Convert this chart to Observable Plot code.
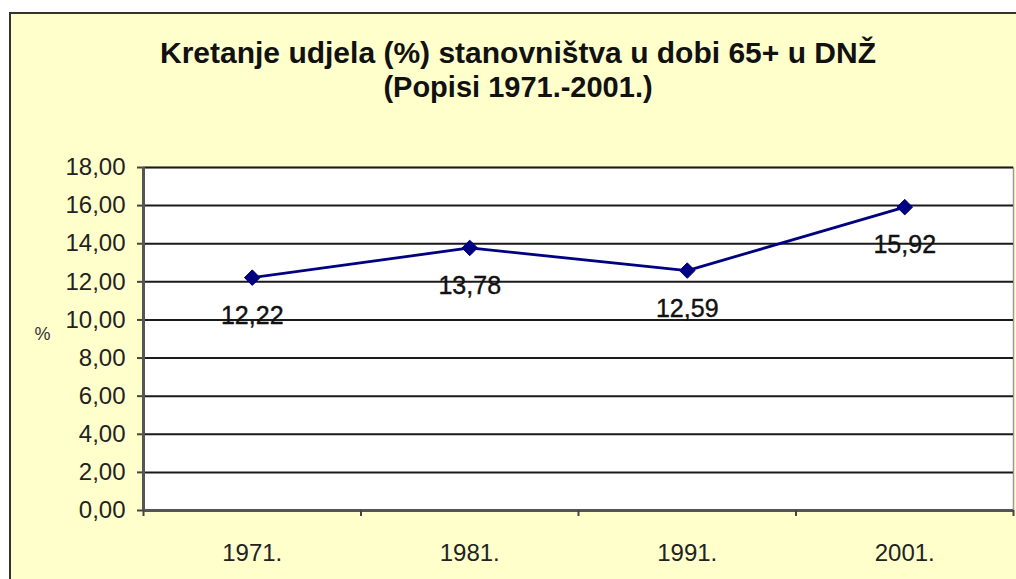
<!DOCTYPE html>
<html>
<head>
<meta charset="utf-8">
<script src="https://cdn.jsdelivr.net/npm/d3@7"></script>
<script src="https://cdn.jsdelivr.net/npm/@observablehq/plot@0.6"></script>
<style>
  html, body { margin: 0; padding: 0; background: #ffffff; }
  #wrap { position: relative; width: 1016px; height: 579px; overflow: hidden; font-family: "Liberation Sans", Arial, sans-serif; }
  #panel { position: absolute; left: 9px; top: 12px; width: 1020px; height: 600px; background: #FFFFCC; border: 2px solid #333; box-sizing: border-box; }
  #title { position: absolute; left: 0; width: 1036px; top: 35px; text-align: center; font-weight: bold; color: #111; }
  #title .l1 { font-size: 30px; line-height: 35px; }
  #title .l2 { font-size: 29px; line-height: 35px; }
  #chart { position: absolute; left: 0; top: 0; }
  #chart svg { background: transparent !important; }
</style>
</head>
<body>
<div id="wrap">
  <div id="panel"></div>
  <div id="title"><div class="l1">Kretanje udjela (%) stanovništva u dobi 65+ u DNŽ</div><div class="l2">(Popisi 1971.-2001.)</div></div>
  <div id="chart"></div>
</div>
<script>
const years = ["1971.", "1981.", "1991.", "2001."];
const shares = [12.22, 13.78, 12.59, 15.92];
const yTicks = [0, 2, 4, 6, 8, 10, 12, 14, 16, 18];
const yLabel = "%";

const data = years.map((yr, i) => ({ pos: i + 0.5, year: yr, value: shares[i] }));
const fmt = d => d.toFixed(2).replace(".", ",");

const chart = Plot.plot({
  width: 1016,
  height: 579,
  marginLeft: 143,
  marginTop: 167,
  marginRight: 3,
  marginBottom: 69,
  style: { background: "transparent", fontFamily: "'Liberation Sans', Arial, sans-serif", color: "#222" },
  x: { type: "linear", domain: [0, years.length] },
  y: { domain: [0, 18] },
  marks: [
    Plot.frame({ fill: "white", stroke: "#999", strokeWidth: 1.5 }),
    Plot.gridY(yTicks, { stroke: "#1a1a1a", strokeOpacity: 1, strokeWidth: 2 }),
    Plot.axisY(yTicks, { tickFormat: fmt, tickSize: 6, tickPadding: 12, fontSize: 24, label: null, stroke: "#444", strokeWidth: 2, fill: "#222" }),
    Plot.ruleX([0], { stroke: "#555", strokeWidth: 3 }),
    Plot.ruleY([0], { stroke: "#555", strokeWidth: 3 }),
    Plot.axisX(d3.range(years.length + 1), { tickFormat: () => "", tickSize: 6, label: null, stroke: "#444", strokeWidth: 2 }),
    Plot.axisX(data.map(d => d.pos), { tickFormat: (d, i) => years[i], tickSize: 0, tickPadding: 33, fontSize: 24, label: null, fill: "#222" }),
    Plot.text([yLabel], { frameAnchor: "left", dx: -109, dy: -5, text: d => d, fontSize: 18, fill: "#333" }),
    Plot.line(data, { x: "pos", y: "value", stroke: "#000080", strokeWidth: 2.8 }),
    Plot.dot(data, { x: "pos", y: "value", symbol: "diamond2", r: 7, fill: "#000080", stroke: "#000080", strokeWidth: 1 }),
    Plot.text(data, { x: "pos", y: "value", text: d => fmt(d.value), dy: 38, fontSize: 25, fill: "#111", stroke: "#111", strokeWidth: 0.4 })
  ]
});
document.getElementById("chart").appendChild(chart);
</script>
</body>
</html>
